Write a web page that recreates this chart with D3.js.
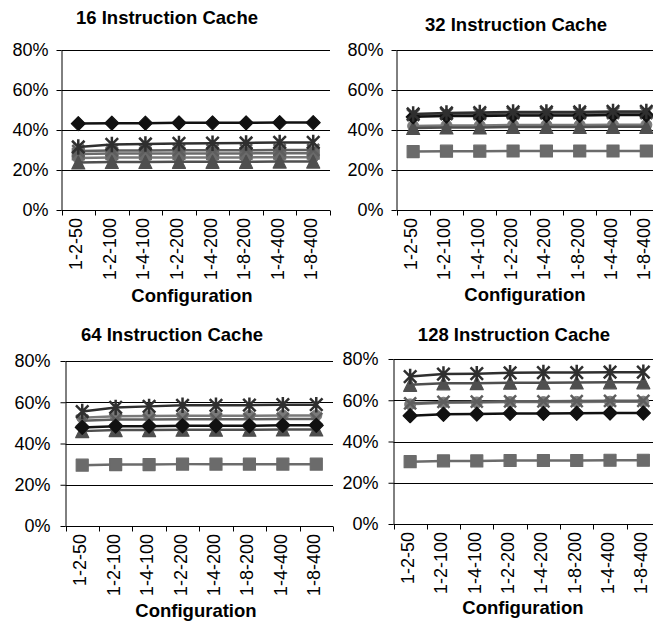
<!DOCTYPE html>
<html>
<head>
<meta charset="utf-8">
<script src="https://cdn.jsdelivr.net/npm/d3@7/dist/d3.min.js"></script>
<style>
  html, body { margin: 0; padding: 0; background: #fff; }
  svg { display: block; }
  text { font-family: "Liberation Sans", Arial, Helvetica, sans-serif; fill: #000; }
</style>
</head>
<body>
<svg id="chart" width="653" height="624"></svg>
<script>
// Processor configurations along the x axis
const categories = ["1-2-50", "1-2-100", "1-4-100", "1-2-200", "1-4-200", "1-8-200", "1-4-400", "1-8-400"];
// Percentage ticks on the y axis
const yTicks = [0, 20, 40, 60, 80];
const panelTitles = ["16 Instruction Cache", "32 Instruction Cache", "64 Instruction Cache", "128 Instruction Cache"];
const xAxisTitle = "Configuration";

// Six series per panel (rows: series 1..6)
const cache16 = [
  [43.2, 43.4, 43.4, 43.6, 43.6, 43.6, 43.7, 43.7],
  [28.0, 28.2, 28.2, 28.3, 28.3, 28.3, 28.4, 28.4],
  [23.8, 24.0, 24.0, 24.1, 24.1, 24.1, 24.2, 24.2],
  [29.5, 29.8, 29.8, 29.9, 29.9, 29.9, 30.0, 30.0],
  [31.5, 32.8, 33.0, 33.3, 33.4, 33.5, 33.8, 33.8],
  [26.0, 26.2, 26.2, 26.3, 26.3, 26.3, 26.4, 26.4]
];
const cache32 = [
  [46.6, 47.0, 47.0, 47.3, 47.3, 47.3, 47.5, 47.5],
  [29.2, 29.4, 29.4, 29.5, 29.5, 29.5, 29.5, 29.5],
  [41.0, 41.3, 41.3, 41.5, 41.5, 41.5, 41.6, 41.6],
  [47.5, 48.0, 48.0, 48.3, 48.3, 48.3, 48.5, 48.5],
  [48.0, 48.5, 48.7, 49.0, 49.0, 49.0, 49.3, 49.3],
  [42.0, 42.3, 42.3, 42.5, 42.5, 42.5, 42.6, 42.6]
];
const cache64 = [
  [47.8, 48.4, 48.4, 48.6, 48.6, 48.6, 48.8, 48.8],
  [29.5, 29.8, 29.8, 30.0, 30.0, 30.0, 30.0, 30.0],
  [46.0, 46.5, 46.5, 46.7, 46.7, 46.7, 46.8, 46.8],
  [51.0, 51.6, 51.6, 51.8, 51.8, 51.8, 51.9, 51.9],
  [55.5, 57.5, 58.0, 58.5, 58.5, 58.6, 58.8, 58.8],
  [52.5, 53.2, 53.3, 53.5, 53.5, 53.5, 53.6, 53.6]
];
const cache128 = [
  [52.5, 53.2, 53.3, 53.6, 53.6, 53.7, 53.8, 53.8],
  [30.2, 30.6, 30.6, 30.8, 30.8, 30.8, 30.9, 30.9],
  [67.5, 68.2, 68.3, 68.5, 68.5, 68.6, 68.7, 68.7],
  [58.5, 59.2, 59.3, 59.5, 59.5, 59.6, 59.7, 59.7],
  [71.5, 72.7, 72.9, 73.3, 73.4, 73.4, 73.6, 73.6],
  [58.0, 58.8, 58.9, 59.1, 59.1, 59.2, 59.3, 59.3]
];
const panelData = [cache16, cache32, cache64, cache128];

// Series styling: marker shape and grey tone
const seriesStyle = [
  { marker: "diamond",  color: "#111111" },
  { marker: "square",   color: "#6b6b6b" },
  { marker: "triangle", color: "#4f4f4f" },
  { marker: "x",        color: "#5e5e5e" },
  { marker: "asterisk", color: "#2f2f2f" },
  { marker: "circle",   color: "#7a7a7a" }
];
// Painting order of the series (later ones on top)
const drawOrder = [5, 1, 2, 3, 0, 4];

// Plot frames for the 2x2 grid
const panels = [
  { x0: 61.5,  x1: 330, yTop: 50,  yBot: 210, titleX: 167, titleY: 24,  tickGap: 13, confX: 192, confY: 302 },
  { x0: 396.5, x1: 663, yTop: 50,  yBot: 210, titleX: 516, titleY: 31,  tickGap: 13, confX: 525, confY: 301 },
  { x0: 65.5,  x1: 333, yTop: 361, yBot: 526, titleX: 172, titleY: 341, tickGap: 15, confX: 196, confY: 617 },
  { x0: 393.5, x1: 660, yTop: 359, yBot: 524, titleX: 514, titleY: 341, tickGap: 15, confX: 523, confY: 614 }
];

const svg = d3.select("#chart");
svg.append("rect").attr("width", 653).attr("height", 624).attr("fill", "#fff");

function markerPath(type, s) {
  const h = s / 2;
  switch (type) {
    case "diamond":  return `M0,${-h}L${h},0L0,${h}L${-h},0Z`;
    case "square":   return `M${-h},${-h}H${h}V${h}H${-h}Z`;
    case "triangle": return `M0,${-h}L${h},${h}L${-h},${h}Z`;
    case "x":        return `M${-h},${-h}L${h},${h}M${h},${-h}L${-h},${h}`;
    case "asterisk": return `M${-h},${-h}L${h},${h}M${h},${-h}L${-h},${h}M0,${-h - 1.5}V${h + 1.5}`;
    default:         return null;
  }
}
const markerSize = { diamond: 14, square: 12, triangle: 13, x: 12, asterisk: 12.5 };

panels.forEach((p, pi) => {
  const g = svg.append("g");
  const x = d3.scaleBand().domain(categories).range([p.x0, p.x1]).padding(0);
  const y = d3.scaleLinear().domain([0, 80]).range([p.yBot, p.yTop]);
  const cx = d => x(d) + x.bandwidth() / 2;

  // Title
  g.append("text")
    .attr("x", p.titleX).attr("y", p.titleY)
    .attr("text-anchor", "middle")
    .style("font-size", "18.5px").style("font-weight", "bold")
    .text(panelTitles[pi]);

  // Horizontal gridlines
  g.selectAll("line.grid").data(yTicks.filter(t => t > 0)).join("line")
    .attr("class", "grid")
    .attr("x1", p.x0).attr("x2", p.x1)
    .attr("y1", d => Math.round(y(d)) + 0.5).attr("y2", d => Math.round(y(d)) + 0.5)
    .attr("stroke", "#000").attr("stroke-width", 1);

  // Y axis
  const yAxis = g.append("g")
    .attr("transform", `translate(${p.x0},0)`)
    .call(d3.axisLeft(y).tickValues(yTicks).tickFormat(d => d + "%").tickSize(5).tickSizeOuter(0).tickPadding(p.tickGap - 5));
  yAxis.select(".domain").attr("stroke", "#000");
  yAxis.selectAll(".tick line").attr("stroke", "#000");
  yAxis.selectAll(".tick text")
    .style("font-size", "18px").style("font-family", "'Liberation Sans', Arial, sans-serif")
    .attr("fill", "#000");

  // X axis line with tick marks at category boundaries
  const yb = Math.round(p.yBot) + 0.5;
  g.append("line").attr("x1", p.x0).attr("x2", p.x1).attr("y1", yb).attr("y2", yb).attr("stroke", "#000");
  const bounds = d3.range(categories.length + 1).map(i => p.x0 + i * x.bandwidth());
  g.selectAll("line.xtick").data(bounds).join("line")
    .attr("class", "xtick")
    .attr("x1", d => Math.round(d) + 0.5).attr("x2", d => Math.round(d) + 0.5)
    .attr("y1", yb).attr("y2", yb + 5)
    .attr("stroke", "#000");

  // Rotated category labels
  g.selectAll("text.cat").data(categories).join("text")
    .attr("class", "cat")
    .attr("transform", d => `translate(${cx(d) - 2.5},${p.yBot + 8}) rotate(-90)`)
    .attr("dy", "0.36em")
    .attr("text-anchor", "end")
    .style("font-size", "18px")
    .text(d => d);

  // Axis title
  g.append("text")
    .attr("x", p.confX).attr("y", p.confY)
    .attr("text-anchor", "middle")
    .style("font-size", "18.5px").style("font-weight", "bold")
    .text(xAxisTitle);

  // Series lines and markers
  const line = d3.line().x((d, i) => cx(categories[i])).y(d => y(d));
  drawOrder.forEach(si => {
    const vals = panelData[pi][si];
    const st = seriesStyle[si];
    const sg = g.append("g");
    sg.append("path").datum(vals)
      .attr("d", line)
      .attr("fill", "none").attr("stroke", st.color).attr("stroke-width", 2.5);
    vals.forEach((v, i) => {
      const px = cx(categories[i]), py = y(v);
      if (st.marker === "circle") {
        sg.append("circle").attr("cx", px).attr("cy", py).attr("r", 5.5)
          .attr("fill", st.color).attr("stroke", st.color);
      } else if (st.marker === "x" || st.marker === "asterisk") {
        sg.append("path").attr("transform", `translate(${px},${py})`)
          .attr("d", markerPath(st.marker, markerSize[st.marker]))
          .attr("fill", "none").attr("stroke", st.color).attr("stroke-width", 2.5);
      } else {
        sg.append("path").attr("transform", `translate(${px},${py})`)
          .attr("d", markerPath(st.marker, markerSize[st.marker]))
          .attr("fill", st.color).attr("stroke", st.color).attr("stroke-width", 1.2)
          .attr("stroke-linejoin", "round");
      }
    });
  });
});
</script>
</body>
</html>
